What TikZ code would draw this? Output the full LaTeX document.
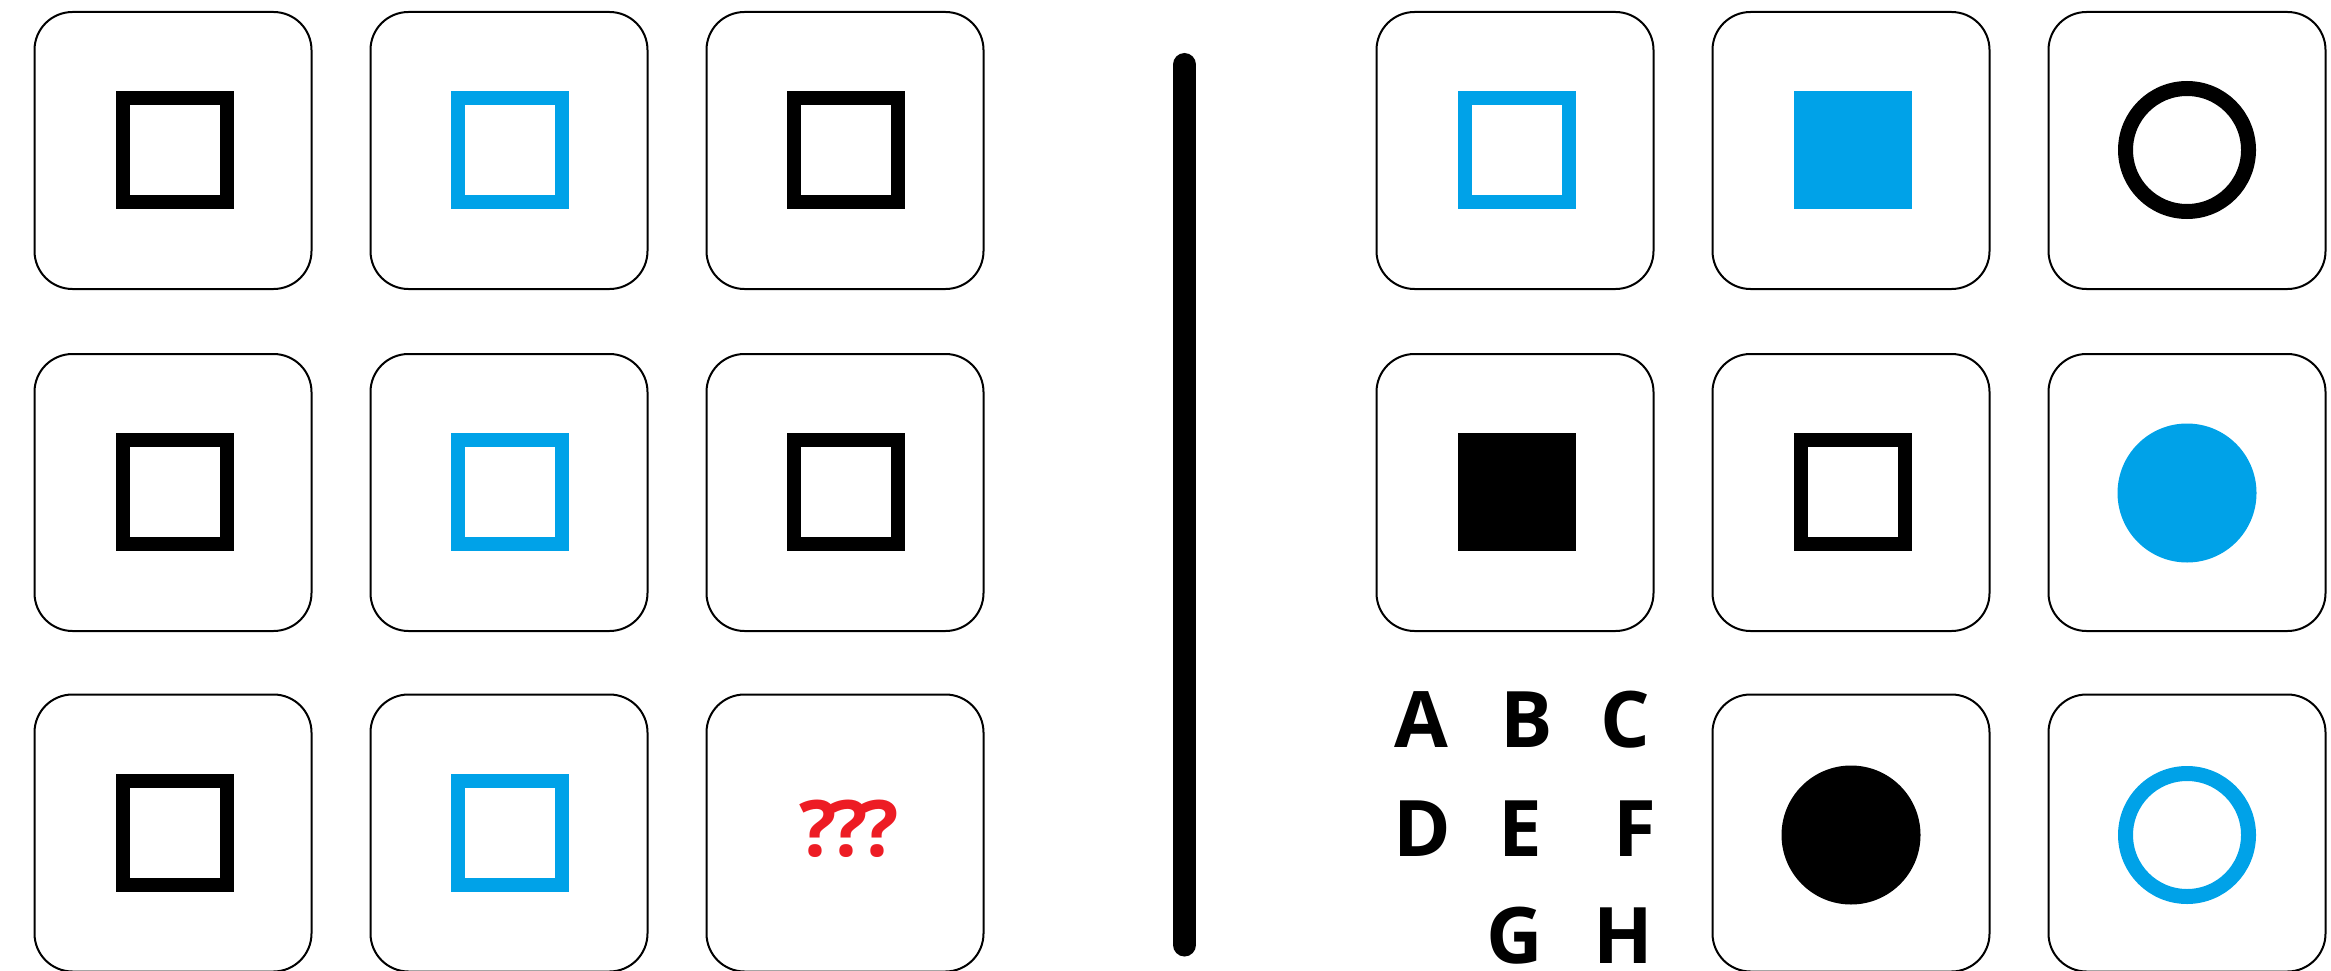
\documentclass[tikz,border=0pt]{standalone}
\usepackage{fontspec}
\setmainfont{Open Sans}
\definecolor{pblue}{RGB}{0,162,232}
\definecolor{pred}{RGB}{237,28,36}
\tikzset{
  cell/.style={draw=black, line width=2pt, rounded corners=38pt, minimum width=277pt, minimum height=277pt, inner sep=0pt},
  osq/.style={draw=#1, line width=14pt, minimum size=104pt, inner sep=0pt},
  fsq/.style={fill=#1, minimum size=118pt, inner sep=0pt},
  ocirc/.style={circle, draw=#1, line width=15pt, minimum size=123pt, inner sep=0pt},
  fcirc/.style={circle, fill=#1, minimum size=139pt, inner sep=0pt},
  letter/.style={inner sep=0pt, font=\fontsize{78}{78}\selectfont\bfseries}
}
\begin{document}
\begin{tikzpicture}[x=1pt,y=-1pt]
\useasboundingbox (0,0) rectangle (2331,971);
% left grid
\node[cell] (l11) at (173,150.5) {};
\node[cell] (l12) at (509,150.5) {};
\node[cell] (l13) at (845,150.5) {};
\node[cell] (l21) at (173,492.5) {};
\node[cell] (l22) at (509,492.5) {};
\node[cell] (l23) at (845,492.5) {};
\node[cell] (l31) at (173,833) {};
\node[cell] (l32) at (509,833) {};
\node[cell] (l33) at (845,833) {};
\node[osq=black] (s11) at (175,150) {};
\node[osq=pblue] (s12) at (510,150) {};
\node[osq=black] (s13) at (846,150) {};
\node[osq=black] (s21) at (175,492) {};
\node[osq=pblue] (s22) at (510,492) {};
\node[osq=black] (s23) at (846,492) {};
\node[osq=black] (s31) at (175,833) {};
\node[osq=pblue] (s32) at (510,833) {};
\node[letter, text=pred] (q) at (849,829) {?\kern-6pt?\kern-6pt?};
% divider
\coordinate (dtop) at (1184.5,64.5);
\coordinate (dbot) at (1184.5,945);
\draw[line width=23pt, line cap=round] (dtop) -- (dbot);
% right grid
\node[cell] (r11) at (1515,150.5) {};
\node[cell] (r12) at (1851,150.5) {};
\node[cell] (r13) at (2187,150.5) {};
\node[cell] (r21) at (1515,492.5) {};
\node[cell] (r22) at (1851,492.5) {};
\node[cell] (r23) at (2187,492.5) {};
\node[cell] (r32) at (1851,833) {};
\node[cell] (r33) at (2187,833) {};
\node[osq=pblue] (t11) at (1517,150) {};
\node[fsq=pblue] (t12) at (1853,150) {};
\node[ocirc=black] (t13) at (2187,150) {};
\node[fsq=black] (t21) at (1517,492) {};
\node[osq=black] (t22) at (1853,492) {};
\node[fcirc=pblue] (t23) at (2187,493) {};
\node[fcirc=black] (t32) at (1851,835) {};
\node[ocirc=pblue] (t33) at (2187,835) {};
% answer letters
\node[letter] (A) at (1421,720) {A};
\node[letter] (B) at (1527,720) {B};
\node[letter] (C) at (1625,720) {C};
\node[letter] (D) at (1422,829) {D};
\node[letter] (E) at (1520,829) {E};
\node[letter] (F) at (1635,829) {F};
\node[letter] (G) at (1515,936) {G};
\node[letter] (H) at (1623,936) {H};
\end{tikzpicture}
\end{document}
